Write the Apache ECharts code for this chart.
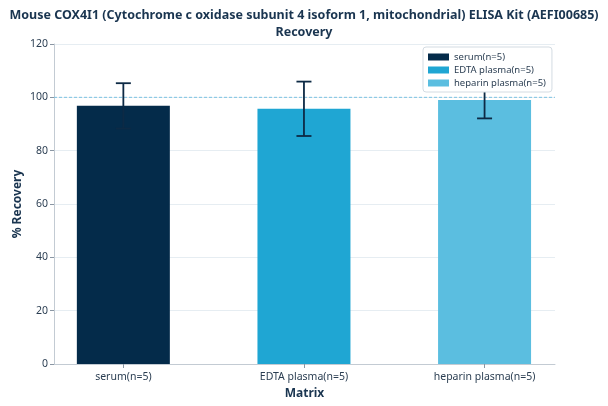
<!DOCTYPE html>
<html><head><meta charset="utf-8">
<script src="https://cdn.jsdelivr.net/npm/echarts@6/dist/echarts.min.js"></script>
<style>html,body{margin:0;padding:0;background:#fff}#c{width:608px;height:406px}</style>
</head><body><div id="c"></div>
<script>
const categories = ['serum(n=5)', 'EDTA plasma(n=5)', 'heparin plasma(n=5)'];
const recovery = [96.8, 95.7, 99.0];
const errors = [8.5, 10.2, 6.9];
const colors = ['#042b4a', '#1fa6d3', '#5bbee0'];
const yTicks = [0, 20, 40, 60, 80, 100, 120];
const refLine = 100;

const font = 'Noto Sans';
const txt = '#2b3e52';
const xMin = -0.384, xMax = 2.39;
const chart = echarts.init(document.getElementById('c'));
const barSeries = categories.map((name, i) => ({
  name: name,
  type: 'bar',
  data: [[i, recovery[i]]],
  barWidth: 93,
  barGap: '-100%',
  itemStyle: { color: colors[i] },
  z: 2
}));
chart.setOption({
  animation: false,
  textStyle: { fontFamily: font },
  title: {
    text: 'Mouse COX4I1 (Cytochrome c oxidase subunit 4 isoform 1, mitochondrial) ELISA Kit (AEFI00685)\nRecovery',
    left: 'center', top: 2,
    textStyle: { fontFamily: font, fontSize: 12.5, fontWeight: 'bold', color: '#1a3550', lineHeight: 17 }
  },
  legend: {
    orient: 'vertical', left: 423, top: 47,
    data: categories,
    itemWidth: 21, itemHeight: 7, itemGap: 3,
    padding: [5, 6, 4, 5],
    backgroundColor: '#ffffff', borderColor: '#d3dbe2', borderWidth: 1, borderRadius: 3,
    textStyle: { fontFamily: font, fontSize: 9.5, color: txt },
    icon: 'rect', z: 10
  },
  grid: { left: 54, right: 53, top: 44, bottom: 42 },
  xAxis: {
    type: 'value', min: xMin, max: xMax,
    name: 'Matrix', nameLocation: 'middle', nameGap: 24,
    nameTextStyle: { fontFamily: font, fontSize: 12, fontWeight: 'bold', color: '#1a3550' },
    axisLine: { show: true, onZero: false, lineStyle: { color: '#c3cbd3', width: 1 } },
    axisTick: { show: true, customValues: [0, 1, 2], length: 4, lineStyle: { color: '#8a96a3' } },
    axisLabel: { customValues: [0, 1, 2], formatter: v => categories[Math.round(v)], fontFamily: font, fontSize: 10.5, color: txt, margin: 8 },
    splitLine: { show: false }
  },
  yAxis: {
    type: 'value', min: yTicks[0], max: yTicks[yTicks.length - 1], interval: 20,
    name: '% Recovery', nameLocation: 'middle', nameGap: 30, nameMoveOverlap: false,
    nameTextStyle: { fontFamily: font, fontSize: 12, fontWeight: 'bold', color: '#1a3550' },
    axisLine: { show: true, onZero: false, lineStyle: { color: '#c3cbd3', width: 1 } },
    axisTick: { show: true, length: 4, lineStyle: { color: '#8a96a3' } },
    axisLabel: { fontFamily: font, fontSize: 10.5, color: txt, margin: 6 },
    splitLine: { show: true, lineStyle: { color: '#e6edf2', width: 1 } }
  },
  series: barSeries.concat([{
    type: 'line',
    silent: true,
    symbol: 'none',
    z: 1,
    data: [[xMin, refLine], [xMax, refLine]],
    lineStyle: { color: '#7cc3e3', type: [3, 2], width: 1 }
  }, {
    type: 'custom',
    z: 3,
    silent: true,
    data: recovery.map((v, i) => [i, v - errors[i], v + errors[i]]),
    renderItem: (params, api) => {
      const x = api.value(0);
      const lo = api.coord([x, api.value(1)]);
      const hi = api.coord([x, api.value(2)]);
      const cap = 7.5;
      const style = { stroke: '#0d2a45', lineWidth: 1.8 };
      return {
        type: 'group',
        children: [
          { type: 'line', shape: { x1: lo[0], y1: lo[1], x2: hi[0], y2: hi[1] }, style },
          { type: 'line', shape: { x1: hi[0] - cap, y1: hi[1], x2: hi[0] + cap, y2: hi[1] }, style },
          { type: 'line', shape: { x1: lo[0] - cap, y1: lo[1], x2: lo[0] + cap, y2: lo[1] }, style }
        ]
      };
    }
  }])
});
</script></body></html>
